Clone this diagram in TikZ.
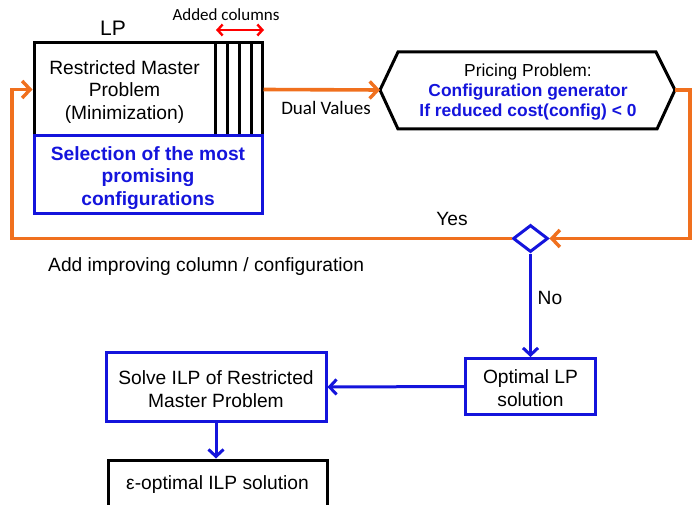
\documentclass[tikz,border=0pt]{standalone}
\usepackage{fontspec}
\setmainfont{Liberation Sans}
\newfontfamily\calib{Carlito}
\usetikzlibrary{arrows.meta,shapes.geometric}
\definecolor{flowOrange}{RGB}{240,112,30}
\definecolor{flowBlue}{RGB}{20,20,220}
\tikzset{
  txt/.style={font=\fontsize{19.2}{22.5}\selectfont, align=center, inner sep=0pt},
  boldblue/.style={txt, font=\fontsize{19.2}{22.5}\selectfont\bfseries, text=flowBlue},
  bluebox/.style={draw=flowBlue, line width=3pt, inner sep=0pt},
  blackbox/.style={draw=black, line width=3pt, inner sep=0pt},
  orangeline/.style={draw=flowOrange, line width=3.6pt},
  orangearrow/.style={orangeline, -{Straight Barb[length=8pt,width=17pt,line width=3.4pt]}},
  bluearrow/.style={draw=flowBlue, line width=3pt, -{Straight Barb[length=7pt,width=15pt,line width=3pt]}},
}
\begin{document}
\begin{tikzpicture}[x=1pt,y=-1pt]
\useasboundingbox (0,0) rectangle (693,505);

% Restricted master problem with its added columns
\node[blackbox, minimum width=228pt, minimum height=93pt] (rmp) at (148,89.5) {};
\foreach \cx in {215,227,239,251}
  \draw[line width=3pt] (\cx,43) -- (\cx,136);
\node[txt] (rmptext) at (124.5,92) {Restricted Master\\Problem\\(Minimization)};
\node[bluebox, minimum width=228pt, minimum height=77pt] (sel) at (148,174.5) {};
\node[boldblue] (seltext) at (148,178) {Selection of the most\\promising\\configurations};

\node[txt, font=\fontsize{21}{24}\selectfont] (lp) at (113,28) {LP};
\node[txt, font=\fontsize{17}{20}\selectfont\calib] (added) at (226,15) {Added columns};
\coordinate (colL) at (216,30);
\coordinate (colR) at (264,30);
\draw[red, line width=2.4pt, {Straight Barb[length=5pt,width=11pt,line width=2.4pt]}-{Straight Barb[length=5pt,width=11pt,line width=2.4pt]}] (colL) -- (colR);

% Pricing problem hexagon
\coordinate (ppL) at (380,90);
\coordinate (ppR) at (675,90);
\draw[line width=3pt, line join=miter] (ppL) -- (398,52) -- (656,52) -- (ppR) -- (657,129) -- (398,129) -- cycle;
\node[txt, font=\fontsize{17.4}{20}\selectfont] (pphead) at (528,72) {Pricing Problem:};
\node[boldblue, font=\fontsize{17.4}{20}\selectfont\bfseries] (ppbody) at (528,102) {Configuration generator\\If reduced cost(config) < 0};

% Decision diamond
\node[diamond, draw=flowBlue, line width=3pt, minimum width=35pt, minimum height=27pt, inner sep=0pt] (dec) at (530.5,238.5) {};

% Orange loop
\draw[orangearrow] (rmp.east) -- (ppL);
\coordinate (rightTop) at (690,90);
\draw[orangearrow] (ppR) -- (rightTop) |- (dec.east);
\coordinate (leftBot) at (12,238.5);
\draw[orangearrow] (dec.west) -- (leftBot) |- (rmp.west);

\node[txt, font=\fontsize{19}{22}\selectfont\calib] (dual) at (326,108) {Dual Values};
\node[txt] (yes) at (452,219) {Yes};
\node[txt, anchor=west] (addimp) at (48,267) {Add improving column / configuration};
\node[txt] (no) at (550,298) {No};

% Lower boxes
\node[bluebox, minimum width=130pt, minimum height=56pt] (opt) at (530.5,386.5) {};
\node[txt] (opttext) at (530.5,388) {Optimal LP\\solution};
\node[bluebox, minimum width=220pt, minimum height=69pt] (ilp) at (216,387) {};
\node[txt] (ilptext) at (216,389) {Solve ILP of Restricted\\Master Problem};
\node[blackbox, minimum width=219pt, minimum height=46pt] (eps) at (217.5,483) {};
\node[txt] (epstext) at (217.5,485) {ε-optimal ILP solution};

\draw[bluearrow] (dec.south) -- (opt.north);
\draw[bluearrow] (opt.west) -- (ilp.east);
\draw[bluearrow] (ilp.south) -- (ilp.south |- eps.north);
\end{tikzpicture}
\end{document}
